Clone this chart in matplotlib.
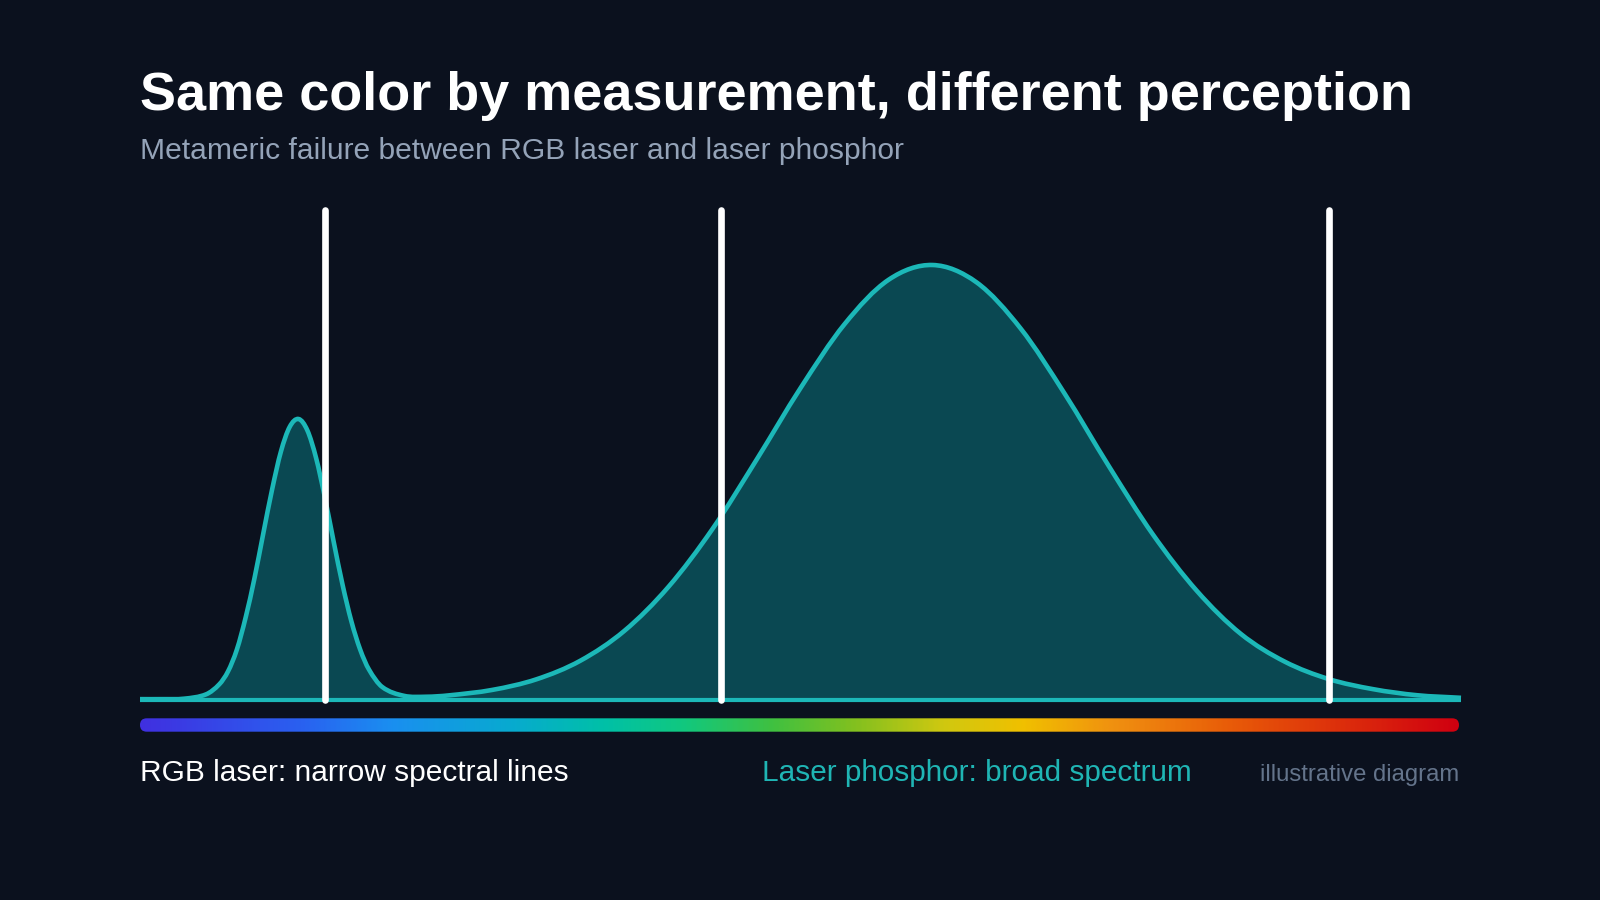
import numpy as np
import matplotlib
matplotlib.use("Agg")
import matplotlib.pyplot as plt
from matplotlib.path import Path
from matplotlib.patches import PathPatch, FancyBboxPatch
from matplotlib.colors import LinearSegmentedColormap

# ---------------- data ----------------
wavelength_nm = [400, 405, 410, 415, 418, 420, 422, 424, 426, 428, 430, 432, 434, 436,
                 438, 440, 442, 444, 446, 448, 450, 452, 455, 460, 465, 470, 480, 490,
                 500, 510, 520, 530, 540, 550, 560, 570, 580, 590, 600, 610, 620, 630,
                 640, 650, 660, 670, 680, 690, 700]
phosphor_intensity = [0.002, 0.002, 0.003, 0.013, 0.036, 0.066, 0.116, 0.190, 0.280, 0.383,
                      0.484, 0.571, 0.628, 0.646, 0.620, 0.556, 0.465, 0.363, 0.265, 0.181,
                      0.116, 0.070, 0.030, 0.0095, 0.0075, 0.0105, 0.0232, 0.0475, 0.0903,
                      0.159, 0.260, 0.393, 0.552, 0.717, 0.864, 0.966, 1.000, 0.960, 0.854,
                      0.704, 0.538, 0.381, 0.251, 0.152, 0.088, 0.048, 0.025, 0.011, 0.005]
laser_lines_nm = [442, 532, 670]
laser_line_height = 1.126

spectrum_stops = [0.0, 0.12, 0.19, 0.28, 0.35, 0.41, 0.48, 0.54, 0.61, 0.67, 0.74, 0.83, 1.0]
spectrum_colors = ["#4030e0", "#2a60f0", "#1a8ff0", "#08aad0", "#00c0a8", "#10c880",
                   "#40c040", "#80c020", "#d0c810", "#f0c000", "#f09010", "#e85a08", "#d00010"]

title_text = "Same color by measurement, different perception"
subtitle_text = "Metameric failure between RGB laser and laser phosphor"
label_rgb = "RGB laser: narrow spectral lines"
label_phosphor = "Laser phosphor: broad spectrum"
label_note = "illustrative diagram"

# ---------------- style ----------------
BG = "#0b111e"
TEAL = "#1cb8b8"
FILL = "#0a4852"
W, H = 1600, 900
FONT = "Liberation Sans"

fig = plt.figure(figsize=(16, 9), dpi=100, facecolor=BG)

# main axes: baseline at y=700px, 435 px per unit intensity
ax = fig.add_axes([140 / W, (H - 700) / H, 1321 / W, 1.2 * 435 / H])
ax.set_xlim(400, 700)
ax.set_ylim(0, 1.2)
ax.axis("off")


def hermite_path(x, y):
    x = np.asarray(x, float)
    y = np.asarray(y, float)
    n = len(x)
    m = np.empty(n)
    m[1:-1] = (y[2:] - y[:-2]) / (x[2:] - x[:-2])
    m[0] = (y[1] - y[0]) / (x[1] - x[0])
    m[-1] = (y[-1] - y[-2]) / (x[-1] - x[-2])
    verts = [(x[0], y[0])]
    codes = [Path.MOVETO]
    for i in range(n - 1):
        dx = x[i + 1] - x[i]
        verts += [(x[i] + dx / 3, y[i] + m[i] * dx / 3),
                  (x[i + 1] - dx / 3, y[i + 1] - m[i + 1] * dx / 3),
                  (x[i + 1], y[i + 1])]
        codes += [Path.CURVE4] * 3
    return verts, codes


verts, codes = hermite_path(wavelength_nm, phosphor_intensity)
fill_verts = verts + [(wavelength_nm[-1], 0), (wavelength_nm[0], 0), (wavelength_nm[0], 0)]
fill_codes = codes + [Path.LINETO, Path.LINETO, Path.CLOSEPOLY]
ax.add_patch(PathPatch(Path(fill_verts, fill_codes), facecolor=FILL, edgecolor="none",
                       zorder=1, clip_on=False))
ax.add_patch(PathPatch(Path(verts, codes), facecolor="none", edgecolor=TEAL, lw=3.3,
                       zorder=2, clip_on=False, capstyle="butt", joinstyle="round"))
ax.plot([wavelength_nm[0], wavelength_nm[-1]], [0, 0], color=TEAL, lw=3.0,
        solid_capstyle="butt", zorder=2, clip_on=False)

for wl in laser_lines_nm:
    ax.plot([wl, wl], [0, laser_line_height], color="white", lw=4.8,
            solid_capstyle="round", zorder=3, clip_on=False)

# spectrum bar
bar_w, bar_h = 1319, 13.4
bax = fig.add_axes([140 / W, (H - 731.7) / H, bar_w / W, bar_h / H])
bax.set_xlim(0, bar_w)
bax.set_ylim(0, bar_h)
bax.axis("off")
cmap = LinearSegmentedColormap.from_list("spec", list(zip(spectrum_stops, spectrum_colors)))
grad = np.linspace(0, 1, 512)[None, :]
im = bax.imshow(grad, cmap=cmap, extent=(0, bar_w, 0, bar_h), aspect="auto",
                interpolation="bilinear")
clip = FancyBboxPatch((0, 0), bar_w, bar_h, boxstyle=f"round,pad=0,rounding_size={bar_h/2}",
                      transform=bax.transData, facecolor="none", edgecolor="none")
bax.add_patch(clip)
im.set_clip_path(clip)

# texts
fig.canvas.draw()
renderer = fig.canvas.get_renderer()


def fit(t, width_px):
    w = t.get_window_extent(renderer).width
    t.set_fontsize(t.get_fontsize() * width_px / w)


t_title = fig.text(140 / W, 1 - 110 / H, title_text, color="white", fontsize=39,
                   fontweight="bold", family=FONT, ha="left", va="baseline")
fit(t_title, 1271)
t_sub = fig.text(140 / W, 1 - 159 / H, subtitle_text, color="#94a3b8", fontsize=21,
                 family=FONT, ha="left", va="baseline")
fit(t_sub, 763)
t_rgb = fig.text(140 / W, 1 - 781 / H, label_rgb, color="white", fontsize=21.5,
                 family=FONT, ha="left", va="baseline")
fit(t_rgb, 429)
t_ph = fig.text(761.5 / W, 1 - 781 / H, label_phosphor, color="#1fb5b4", fontsize=21.5,
                family=FONT, ha="left", va="baseline")
fit(t_ph, 431)
t_note = fig.text(1459 / W, 1 - 781 / H, label_note, color="#64748b", fontsize=16.5,
                  family=FONT, ha="right", va="baseline")
fit(t_note, 199)

fig.savefig("out.png", dpi=100, facecolor=BG)
